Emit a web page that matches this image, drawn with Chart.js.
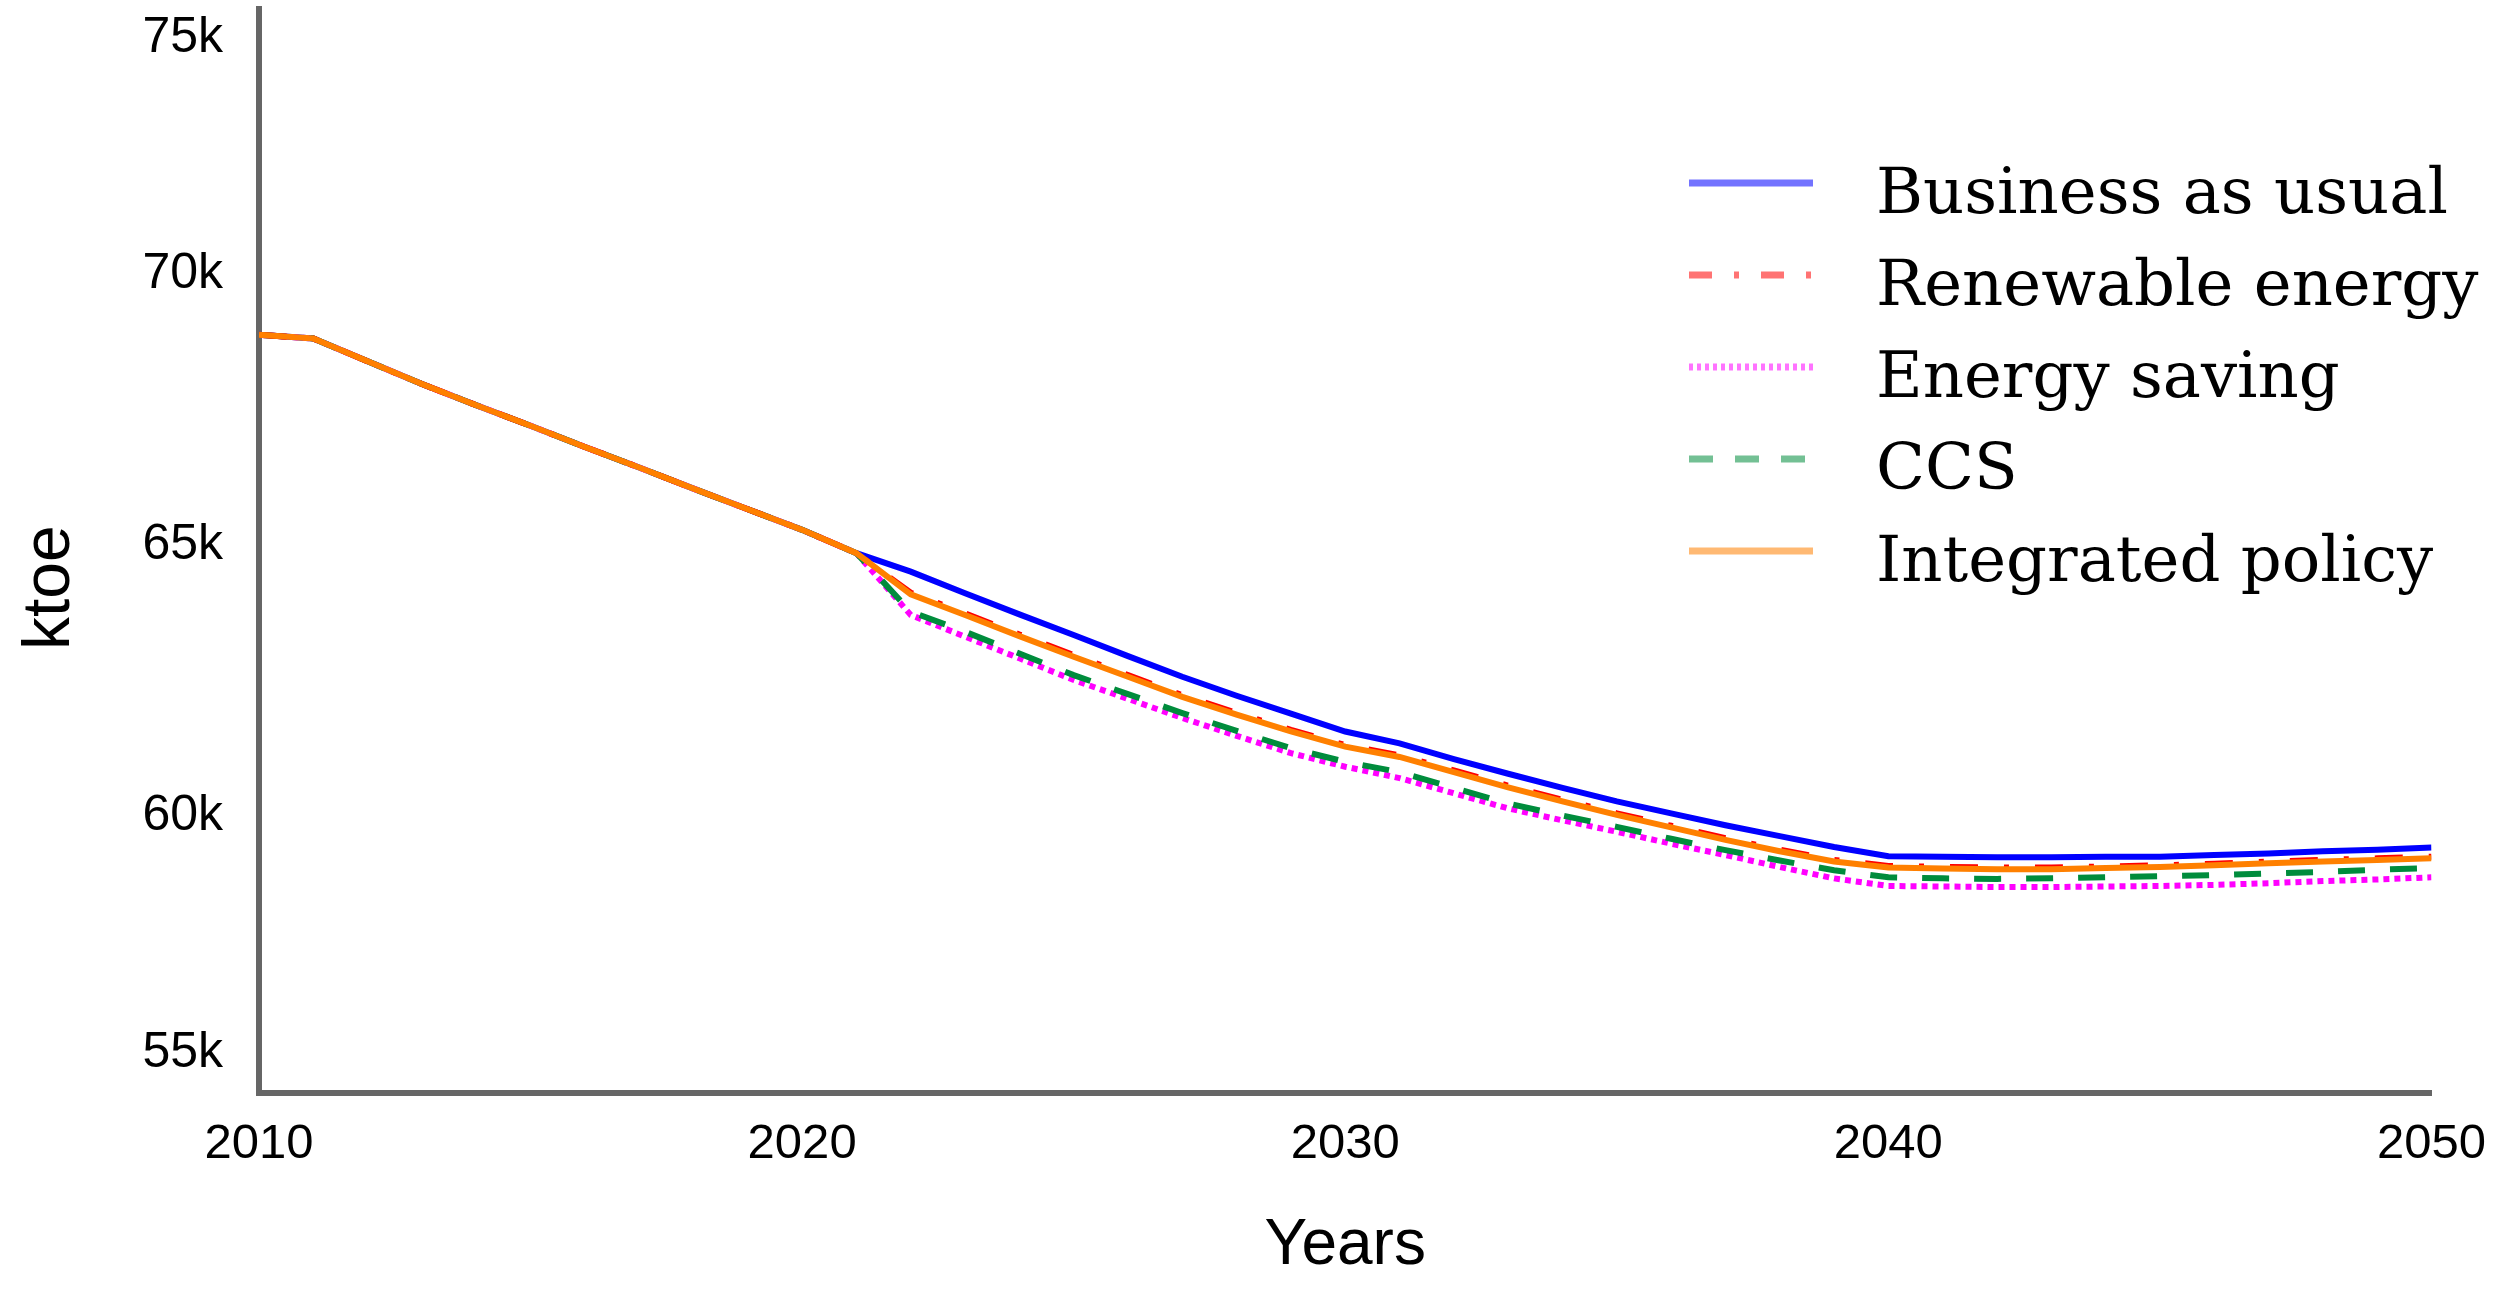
<!DOCTYPE html>
<html>
<head>
<meta charset="utf-8">
<script src="https://cdn.jsdelivr.net/npm/chart.js@4.4.1/dist/chart.umd.min.js"></script>
<style>
  html, body { margin: 0; padding: 0; background: #fff; }
  #wrap { width: 2508px; height: 1292px; position: relative; }
</style>
</head>
<body>
<div id="wrap"><canvas id="grafico"></canvas></div>
<script>
// años y escenarios (ktoe)
const years = [2010, 2011, 2012, 2013, 2014, 2015, 2016, 2017, 2018, 2019,
  2020, 2021, 2022, 2023, 2024, 2025, 2026, 2027, 2028, 2029,
  2030, 2031, 2032, 2033, 2034, 2035, 2036, 2037, 2038, 2039,
  2040, 2041, 2042, 2043, 2044, 2045, 2046, 2047, 2048, 2049, 2050];

const businessAsUsual = [68990, 68920, 68500, 68080, 67690, 67310, 66920, 66540, 66150, 65770,
  65390, 64960, 64620, 64220, 63830, 63450, 63060, 62680, 62330, 62000,
  61670, 61450, 61160, 60890, 60630, 60380, 60160, 59940, 59740, 59540,
  59370, 59360, 59350, 59350, 59360, 59360, 59390, 59420, 59460, 59490, 59530];

const renewableEnergy = [68990, 68920, 68500, 68080, 67690, 67310, 66920, 66540, 66150, 65770,
  65390, 64960, 64230, 63850, 63460, 63080, 62710, 62340, 62010, 61700,
  61420, 61230, 60950, 60670, 60410, 60160, 59930, 59700, 59490, 59300,
  59190, 59170, 59160, 59160, 59180, 59200, 59230, 59270, 59300, 59330, 59360];

const energySaving = [68990, 68920, 68500, 68080, 67690, 67310, 66920, 66540, 66150, 65770,
  65390, 64960, 63820, 63420, 63020, 62620, 62270, 61920, 61590, 61270,
  61020, 60810, 60530, 60250, 60030, 59820, 59600, 59390, 59170, 58960,
  58820, 58810, 58800, 58800, 58810, 58820, 58840, 58870, 58910, 58940, 58980];

const ccs = [68990, 68920, 68500, 68080, 67690, 67310, 66920, 66540, 66150, 65770,
  65390, 64960, 63880, 63510, 63110, 62710, 62360, 62010, 61680, 61360,
  61110, 60920, 60630, 60340, 60120, 59910, 59690, 59480, 59290, 59110,
  58980, 58960, 58950, 58960, 58980, 59000, 59020, 59050, 59080, 59120, 59150];

const integratedPolicy = [68990, 68920, 68500, 68080, 67690, 67310, 66920, 66540, 66150, 65770,
  65390, 64960, 64200, 63820, 63430, 63050, 62680, 62310, 61980, 61670,
  61390, 61200, 60920, 60640, 60380, 60130, 59900, 59670, 59460, 59270,
  59160, 59140, 59130, 59130, 59150, 59170, 59200, 59240, 59270, 59300, 59330];

const toPoints = serie => serie.map((v, i) => ({ x: years[i], y: v }));

// mover las etiquetas extremas del eje y hacia dentro, como en el original
const ajusteTicks = {
    id: 'ajusteTicks',
    beforeDraw(chart) {
        const area = chart.chartArea;
        chart.scales.y.getLabelItems().forEach(it => {
            if (it._movido) return;
            it._movido = true;
            const t = it.options.translation;
            if (it.label === '75k') t[1] = area.top + 29;
            else if (it.label === '55k') t[1] = area.bottom - 40;
            else t[1] -= 6;
        });
    }
};

// leyenda dibujada a mano dentro del área del gráfico
const leyenda = {
    id: 'leyenda',
    afterDraw(chart) {
        const ctx = chart.ctx;
        ctx.save();
        chart.data.datasets.forEach((ds, i) => {
            const y = 183 + i * 92;
            ctx.globalAlpha = 0.55;
            ctx.strokeStyle = ds.borderColor;
            ctx.lineWidth = 7;
            ctx.setLineDash(ds.legendDash);
            ctx.beginPath();
            ctx.moveTo(1689, y);
            ctx.lineTo(1813, y);
            ctx.stroke();
            ctx.globalAlpha = 1;
            ctx.setLineDash([]);
            ctx.fillStyle = '#000';
            ctx.font = '64px "DejaVu Serif", serif';
            ctx.textBaseline = 'alphabetic';
            ctx.fillText(ds.label, 1876, y + 30);
        });
        ctx.restore();
    }
};

const fuenteEjes = "'Liberation Sans', Arial, sans-serif";

new Chart(document.getElementById('grafico').getContext('2d'), {
    type: 'line',
    data: {
        datasets: [{
            label: 'Business as usual',
            data: toPoints(businessAsUsual),
            borderColor: '#0000ff',
            borderWidth: 6,
            borderDash: [],
            legendDash: [],
            order: 4
        }, {
            label: 'Renewable energy',
            data: toPoints(renewableEnergy),
            borderColor: '#ff0000',
            borderWidth: 6,
            borderDash: [28, 26, 5, 26],
            legendDash: [23, 22, 5, 22],
            order: 1
        }, {
            label: 'Energy saving',
            data: toPoints(energySaving),
            borderColor: '#ff00ff',
            borderWidth: 6,
            borderDash: [6, 5],
            legendDash: [4, 4],
            order: 3
        }, {
            label: 'CCS',
            data: toPoints(ccs),
            borderColor: '#008c3c',
            borderWidth: 6,
            borderDash: [27, 25],
            legendDash: [24, 22],
            order: 2
        }, {
            label: 'Integrated policy',
            data: toPoints(integratedPolicy),
            borderColor: '#ff8000',
            borderWidth: 6,
            borderDash: [],
            legendDash: [],
            order: 0
        }]
    },
    options: {
        responsive: true,
        maintainAspectRatio: false,
        animation: false,
        devicePixelRatio: 1,
        elements: {
            point: { radius: 0 },
            line: { tension: 0, fill: false, borderCapStyle: 'butt' }
        },
        layout: { padding: { top: 9, right: 72, bottom: 0, left: 0 } },
        plugins: {
            legend: { display: false },
            tooltip: { enabled: false }
        },
        scales: {
            x: {
                type: 'linear',
                min: 2010,
                max: 2050,
                grid: { display: false, drawTicks: false },
                border: { display: true, color: '#666666', width: 6 },
                ticks: {
                    stepSize: 10,
                    padding: 22,
                    color: '#000',
                    maxRotation: 0,
                    font: { family: fuenteEjes, size: 49 },
                    callback: v => String(v)
                },
                title: {
                    display: true,
                    text: 'Years',
                    color: '#000',
                    font: { family: fuenteEjes, size: 64 },
                    padding: { top: 0, bottom: 7 }
                },
                afterFit: s => { s.height = 199; }
            },
            y: {
                min: 55000,
                max: 75000,
                grid: { display: false, drawTicks: false },
                border: { display: true, color: '#666666', width: 6 },
                ticks: {
                    stepSize: 5000,
                    padding: 36,
                    color: '#000',
                    font: { family: fuenteEjes, size: 50 },
                    callback: v => (v / 1000) + 'k'
                },
                title: {
                    display: true,
                    text: 'ktoe    ',
                    color: '#000',
                    font: { family: fuenteEjes, size: 66 },
                    padding: { top: 11, bottom: 0 }
                },
                afterFit: s => {
                    s.width = 259;
                    s.paddingTop = 0;
                    s.paddingBottom = 0;
                }
            }
        }
    },
    plugins: [ajusteTicks, leyenda]
});
</script>
</body>
</html>
